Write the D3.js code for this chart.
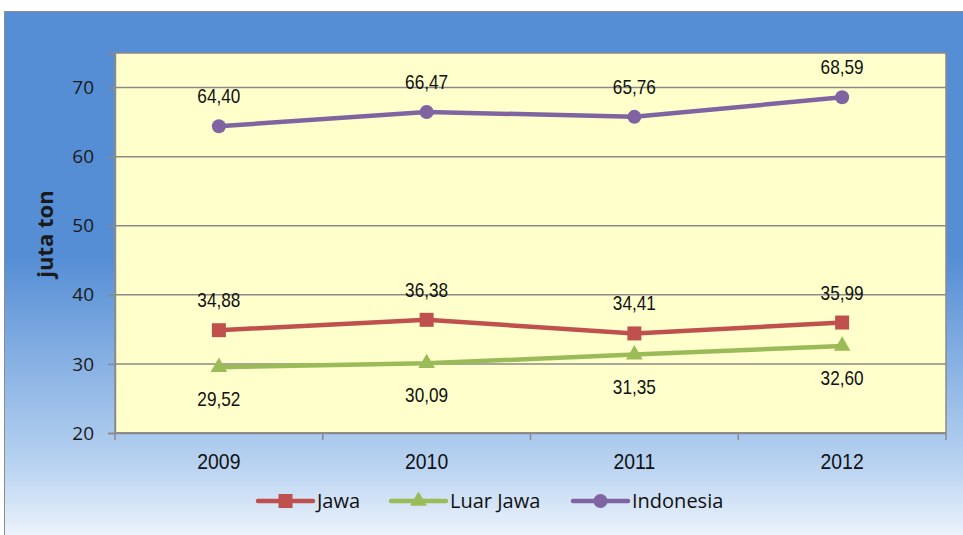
<!DOCTYPE html>
<html>
<head>
<meta charset="utf-8">
<script src="https://cdn.jsdelivr.net/npm/d3@7"></script>
<style>
body{margin:0;background:#fff;}
svg{display:block;}
</style>
</head>
<body>
<div id="chart"></div>
<script>
// data
let years=["2009","2010","2011","2012"];
let jawa=[34.88,36.38,34.41,35.99];
let luarJawa=[29.52,30.09,31.35,32.60];
let indonesia=[64.40,66.47,65.76,68.59];
let yTicks=[20,30,40,50,60,70];

let W=963,H=535;
let m={left:115,right:17,top:53,bottom:102};

let svg=d3.select("#chart").append("svg")
    .attr("width",W)
    .attr("height",H);

let defs=svg.append("defs");
let grad=defs.append("linearGradient").attr("id","bg")
    .attr("x1",0).attr("y1",0).attr("x2",0).attr("y2",1);
grad.append("stop").attr("offset","0%").attr("stop-color","#558ed5");
grad.append("stop").attr("offset","46%").attr("stop-color","#558ed5");
grad.append("stop").attr("offset","85%").attr("stop-color","#b9d3f1");
grad.append("stop").attr("offset","100%").attr("stop-color","#f4f8fd");

//outer chart area
svg.append("rect")
    .attr("x",4.5).attr("y",11.5)
    .attr("width",W).attr("height",H)
    .attr("fill","url(#bg)")
    .attr("stroke","#8c8c8c")
    .attr("stroke-width",1);

let width=W-m.left-m.right;
let height=H-m.top-m.bottom;

let graph=svg.append("g")
    .attr("transform","translate("+m.left+","+m.top+")");

let x=d3.scaleBand().domain(years).range([0,width]);
let y=d3.scaleLinear().domain([20,75]).range([height,0]);

graph.append("rect")
    .attr("width",width).attr("height",height)
    .attr("fill","#ffffcc");

//gridlines
graph.append("g")
    .selectAll("line")
    .data(yTicks)
    .enter().append("line")
    .attr("x1",0).attr("x2",width)
    .attr("y1",d=>y(d)).attr("y2",d=>y(d))
    .attr("stroke","#8a8a8a")
    .attr("stroke-width",1.5);

graph.append("rect")
    .attr("width",width).attr("height",height)
    .attr("fill","none")
    .attr("stroke","#8a8a8a")
    .attr("stroke-width",1.5);

//y axis
let yAxis=graph.append("g")
    .call(d3.axisLeft(y).tickValues(yTicks).tickSize(7).tickPadding(14));
yAxis.select(".domain").attr("stroke","#8a8a8a").attr("stroke-width",1.5);
yAxis.selectAll(".tick line").attr("stroke","#8a8a8a").attr("stroke-width",1.5);
yAxis.selectAll("text")
    .attr("font-family","Open Sans, sans-serif")
    .attr("font-size",19)
    .attr("fill","#1a1a1a");

//x axis: ticks on the band edges
let xAxis=graph.append("g")
    .attr("transform","translate(0,"+height+")")
    .call(d3.axisBottom(x).tickSize(0).tickPadding(20));
xAxis.select(".domain").attr("stroke","#8a8a8a").attr("stroke-width",1.5);
// narrow look: squeeze the Arial-like glyphs a bit
xAxis.selectAll(".tick text")
    .attr("font-family","Liberation Sans, Arial, sans-serif")
    .attr("font-size",22)
    .attr("fill","#111")
    .attr("transform","scale(0.88,1)");
let edges=years.map(d=>x(d)).concat([width]);
xAxis.selectAll(".edge")
    .data(edges)
    .enter().append("line")
    .attr("class","edge")
    .attr("x1",d=>d).attr("x2",d=>d)
    .attr("y1",0).attr("y2",7)
    .attr("stroke","#8a8a8a")
    .attr("stroke-width",1.5);

svg.append("text")
    .attr("transform","translate(53,234) rotate(-90)")
    .attr("text-anchor","middle")
    .attr("font-family","Open Sans, sans-serif")
    .attr("font-weight","bold")
    .attr("font-size",22)
    .attr("fill","#1a1a1a")
    .text("juta ton");

let series=[
    {name:"Jawa",values:jawa,color:"#c0504d",marker:"square",labelPos:"above"},
    {name:"Luar Jawa",values:luarJawa,color:"#9bbb59",marker:"triangle",labelPos:"below"},
    {name:"Indonesia",values:indonesia,color:"#8064a2",marker:"circle",labelPos:"above"}
];

let cx=d=>x(d)+x.bandwidth()/2;
let line=d3.line().x(d=>cx(d.year)).y(d=>y(d.value));

function drawMarker(g,type,color){
    if(type=="square"){
        g.append("rect").attr("x",-7).attr("y",-7).attr("width",14).attr("height",14).attr("fill",color);
    }else if(type=="triangle"){
        g.append("path").attr("d",d3.symbol().type(d3.symbolTriangle).size(120)).attr("fill",color);
    }else{
        g.append("circle").attr("r",7).attr("fill",color);
    }
}

series.forEach(function(s){
    let pts=years.map((yr,i)=>({year:yr,value:s.values[i]}));
    graph.append("path")
        .datum(pts)
        .attr("d",line)
        .attr("fill","none")
        .attr("stroke",s.color)
        .attr("stroke-width",4.5)
        .attr("stroke-linejoin","round");
    pts.forEach(function(p){
        let g=graph.append("g").attr("transform","translate("+cx(p.year)+","+y(p.value)+")");
        drawMarker(g,s.marker,s.color);
        let ly=y(p.value)+(s.labelPos=="above"?-23:39);
        graph.append("text")
            .attr("transform","translate("+cx(p.year)+","+ly+") scale(0.86,1)")
            .attr("text-anchor","middle")
            .attr("font-family","Liberation Sans, Arial, sans-serif")
            .attr("font-size",20)
            .attr("fill","#111")
            .text(p.value.toFixed(2).replace(".",","));
    });
});

//legend
let legendX=[258,391,573];
let legend=svg.append("g");
series.forEach(function(s,i){
    let g=legend.append("g").attr("transform","translate("+legendX[i]+",501)");
    g.append("line").attr("x1",0).attr("x2",55).attr("y1",0).attr("y2",0)
        .attr("stroke",s.color).attr("stroke-width",4.5).attr("stroke-linecap","round");
    let mk=g.append("g").attr("transform","translate(27.5,0)");
    drawMarker(mk,s.marker,s.color);
    g.append("text").attr("x",59).attr("y",7)
        .attr("font-family","Open Sans, sans-serif")
        .attr("font-size",20)
        .attr("fill","#111")
        .text(s.name);
});
</script>
</body>
</html>
